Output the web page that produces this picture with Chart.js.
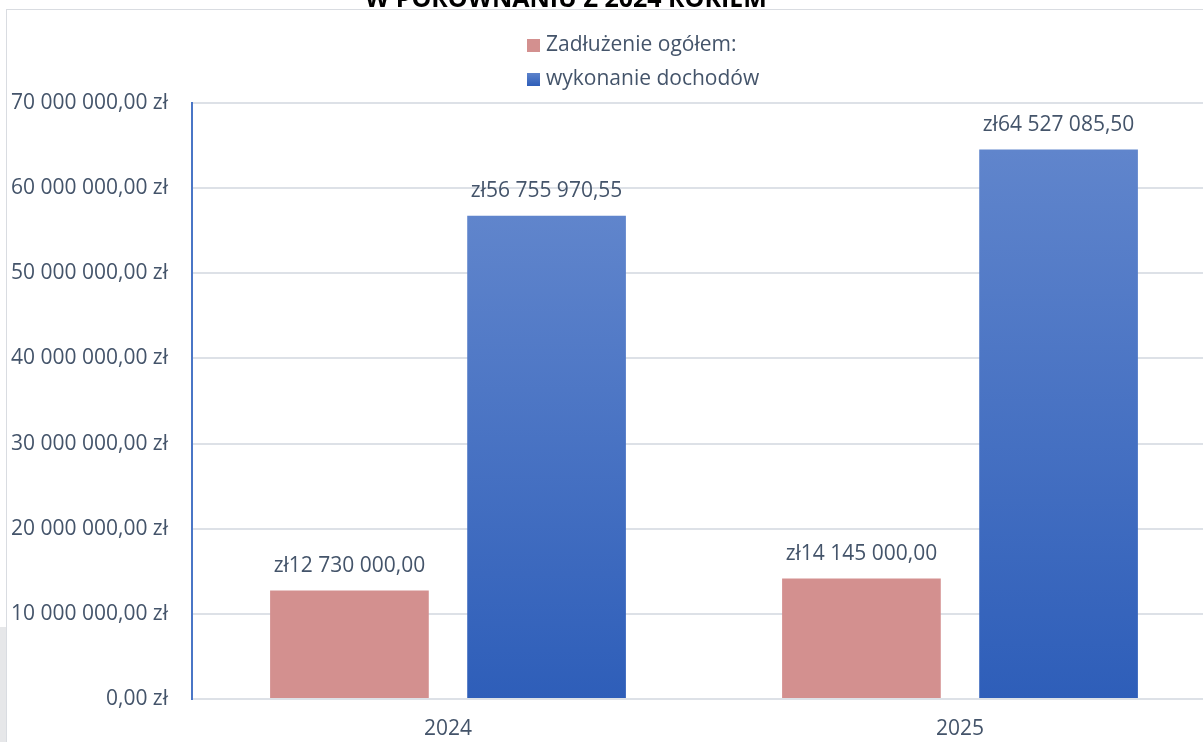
<!DOCTYPE html>
<html>
<head>
<meta charset="utf-8">
<script src="https://cdn.jsdelivr.net/npm/chart.js@4.4.0/dist/chart.umd.min.js"></script>
<style>
  html, body { margin: 0; padding: 0; background: #ffffff; overflow: hidden; width: 1203px; height: 742px; }
  #wrap { position: absolute; left: 0; top: 0; width: 1216px; height: 742px; }
  #frameTop { position: absolute; left: 6px; top: 9px; width: 1300px; height: 1px; background: #D9DCE1; }
  #frameLeft { position: absolute; left: 6px; top: 9px; width: 1px; height: 733px; background: #D9DCE1; }
  #grayBlock { position: absolute; left: 0; top: 627px; width: 6px; height: 115px; background: #E6E7E9; }
  canvas { position: absolute; left: 0; top: 0; }
</style>
</head>
<body>
<div id="frameTop"></div>
<div id="frameLeft"></div>
<div id="grayBlock"></div>
<div id="wrap"><canvas id="c" width="1216" height="742"></canvas></div>
<script>
const titleText = 'W PORÓWNANIU Z 2024 ROKIEM';
const categories = ['2024', '2025'];
const seriesNames = ['Zadłużenie ogółem:', 'wykonanie dochodów'];
const debtValues = [12730000.00, 14145000.00];
const incomeValues = [56755970.55, 64527085.50];
const yTicks = [0, 10000000, 20000000, 30000000, 40000000, 50000000, 60000000, 70000000];

const FONT = "'Open Sans', 'Noto Sans', sans-serif";
const TEXT = '#44546A';
const PINK = '#D3908F';
const BLUE_TOP = '#6085CC';
const BLUE_BOT = '#2E5EB9';

function fmtNum(v) {
  const parts = v.toFixed(2).split('.');
  return parts[0].replace(/\B(?=(\d{3})+(?!\d))/g, ' ') + ',' + parts[1];
}

function blueGradient(ctx) {
  const chart = ctx.chart;
  const y = chart.scales && chart.scales.y;
  if (!y || !chart.chartArea || ctx.raw === undefined) return BLUE_BOT;
  const top = y.getPixelForValue(ctx.raw);
  const bot = y.getPixelForValue(0);
  if (!isFinite(top) || !isFinite(bot) || top === bot) return BLUE_BOT;
  const g = chart.ctx.createLinearGradient(0, top, 0, bot);
  g.addColorStop(0, BLUE_TOP);
  g.addColorStop(1, BLUE_BOT);
  return g;
}

const extras = {
  id: 'extras',
  afterDatasetsDraw(chart) {
    const ctx = chart.ctx;
    ctx.save();
    ctx.font = '21px ' + FONT;
    ctx.fillStyle = TEXT;
    ctx.textAlign = 'center';
    ctx.textBaseline = 'middle';
    chart.data.datasets.forEach((ds, di) => {
      const meta = chart.getDatasetMeta(di);
      meta.data.forEach((el, i) => {
        ctx.fillText('zł' + fmtNum(ds.data[i]), el.x, el.y - 25);
      });
    });
    ctx.restore();
  },
  afterDraw(chart) {
    const ctx = chart.ctx;
    ctx.save();
    // title (cut off at the top)
    ctx.font = 'bold 25px ' + FONT;
    ctx.fillStyle = '#000000';
    ctx.textAlign = 'center';
    ctx.textBaseline = 'alphabetic';
    ctx.fillText(titleText, 566, 7);
    // legend
    const rows = [45, 79];
    ctx.font = '21px ' + FONT;
    ctx.textAlign = 'left';
    ctx.textBaseline = 'middle';
    chart.data.datasets.forEach((ds, di) => {
      const cy = rows[di];
      if (di === 0) {
        ctx.fillStyle = PINK;
      } else {
        const g = ctx.createLinearGradient(0, cy - 7, 0, cy + 7);
        g.addColorStop(0, BLUE_TOP);
        g.addColorStop(1, BLUE_BOT);
        ctx.fillStyle = g;
      }
      ctx.fillRect(527, cy - 6, 13, 13);
      ctx.fillStyle = TEXT;
      ctx.fillText(ds.label, 546, cy);
    });
    ctx.restore();
  }
};

new Chart(document.getElementById('c'), {
  type: 'bar',
  data: {
    labels: categories,
    datasets: [
      { label: seriesNames[0], data: debtValues, backgroundColor: PINK, borderWidth: 0 },
      { label: seriesNames[1], data: incomeValues, backgroundColor: blueGradient, borderWidth: 0 }
    ]
  },
  options: {
    responsive: false,
    animation: false,
    devicePixelRatio: 1,
    layout: { padding: { top: 103, left: 0, right: 0, bottom: 0 } },
    categoryPercentage: 0.77,
    barPercentage: 0.805,
    plugins: {
      legend: { display: false },
      title: { display: false },
      tooltip: { enabled: false }
    },
    scales: {
      x: {
        grid: { display: false, drawTicks: false },
        border: { display: true, color: '#DDE1E7', width: 2 },
        ticks: { color: TEXT, font: { family: FONT, size: 21 }, padding: 17 },
        afterFit(s) { s.height = 43; }
      },
      y: {
        min: 0,
        max: 70000000,
        afterBuildTicks(s) { s.ticks = yTicks.map(v => ({ value: v })); },
        grid: { color: '#DDE1E7', lineWidth: 2, drawTicks: false },
        border: { display: true, color: '#4A76C6', width: 2 },
        ticks: {
          color: TEXT,
          font: { family: FONT, size: 21 },
          padding: 24,
          callback: (v) => fmtNum(v) + ' zł'
        },
        afterFit(s) { s.width = 192; }
      }
    }
  },
  plugins: [extras]
});
</script>
</body>
</html>
